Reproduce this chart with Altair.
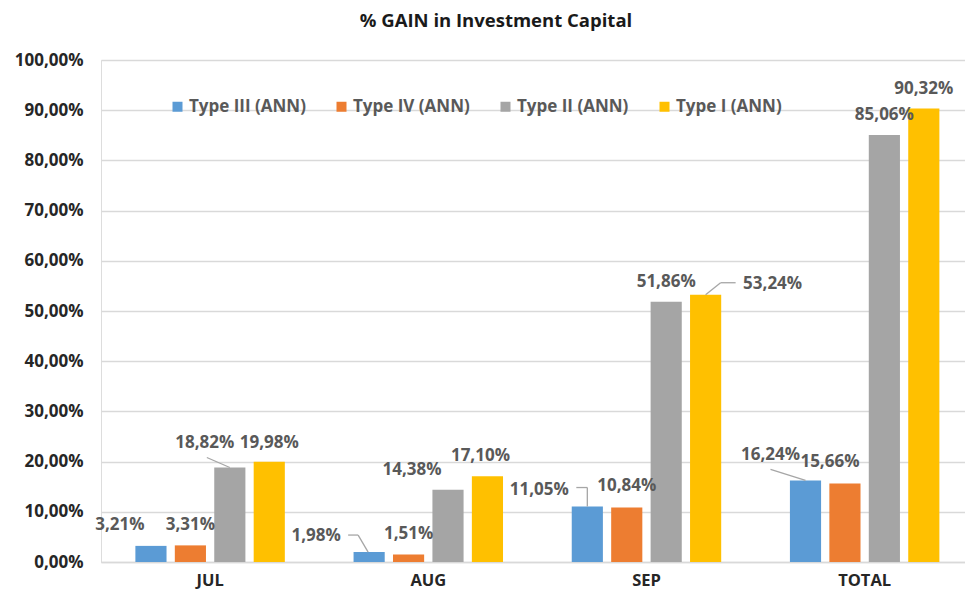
import altair as alt
import pandas as pd

categories = ["JUL", "AUG", "SEP", "TOTAL"]
series = ["Type III (ANN)", "Type IV (ANN)", "Type II (ANN)", "Type I (ANN)"]
type3 = [3.21, 1.98, 11.05, 16.24]
type4 = [3.31, 1.51, 10.84, 15.66]
type2 = [18.82, 14.38, 51.86, 85.06]
type1 = [19.98, 17.10, 53.24, 90.32]
colors = ["#5b9bd5", "#ed7d31", "#a5a5a5", "#ffc000"]

values_by_series = [type3, type4, type2, type1]
rows = []
for s, vals in zip(series, values_by_series):
    for c, v in zip(categories, vals):
        rows.append({"cat": c, "series": s, "value": v})
df = pd.DataFrame(rows)

# label pixel offsets (layout), keyed by (category, series index)
label_off = {
    ("JUL", 0): (-31, -21), ("JUL", 1): (0, -20), ("JUL", 2): (-25, -25), ("JUL", 3): (0, -19),
    ("AUG", 0): (-53, -16), ("AUG", 1): (0, -20), ("AUG", 2): (-36, -20), ("AUG", 3): (-7, -20),
    ("SEP", 0): (-48, -17), ("SEP", 1): (0, -22), ("SEP", 2): (0, -20), ("SEP", 3): (67, -11),
    ("TOTAL", 0): (-35, -25), ("TOTAL", 1): (-15, -21), ("TOTAL", 2): (0, -20), ("TOTAL", 3): (0, -20),
}
# leader line segments (layout): (cat, series idx, dx1, dy1, dx2, dy2) relative to bar top centre
leaders = [
    ("JUL", 2, 0, 0, -23, -10),
    ("AUG", 0, -1, 0, -11, -17), ("AUG", 0, -11, -17, -21, -17),
    ("SEP", 0, 0, 0, 0, -19), ("SEP", 0, 0, -19, -11, -19),
    ("SEP", 3, 0, 0, 15, -12), ("SEP", 3, 15, -12, 30, -12),
    ("TOTAL", 0, 0, 0, -35, -11),
]

FONT = "Open Sans"
W, H = 864, 502
PAD_IN, PAD_OUT, ALIGN = 0.315, 0.1375, 0.573
OFF_PAD = 0.21

# pixel centre of each series' bar relative to the category band centre (layout)
step = W / (len(categories) - PAD_IN + 2 * PAD_OUT)
bandwidth = step * (1 - PAD_IN)
off_step = bandwidth / (len(series) - OFF_PAD)
bar_center = [(i - (len(series) - 1) / 2) * off_step for i in range(len(series))]

x_enc = alt.X("cat:N", sort=categories, title=None,
              scale=alt.Scale(paddingInner=PAD_IN, paddingOuter=PAD_OUT, align=ALIGN),
              axis=alt.Axis(labelFont=FONT, labelFontSize=16.5, labelFontWeight="bold",
                            labelColor="#262626", labelAngle=0, labelPadding=10,
                            ticks=False, domainColor="#d9d9d9", domainWidth=1.5))
xoff_enc = alt.XOffset("series:N", sort=series,
                       scale=alt.Scale(paddingInner=OFF_PAD, paddingOuter=0))
y_enc = alt.Y("value:Q", title=None,
              scale=alt.Scale(domain=[0, 100], nice=False),
              axis=alt.Axis(values=list(range(0, 101, 10)),
                            labelExpr="replace(format(datum.value, '.2f'), '.', ',') + '%'",
                            labelFont=FONT, labelFontSize=17, labelFontWeight="bold",
                            labelColor="#262626", labelPadding=18,
                            ticks=False, domain=False,
                            gridColor="#d9d9d9", gridWidth=1.5))

base = alt.Chart(df)

bars = base.mark_bar().encode(
    x=x_enc,
    xOffset=xoff_enc,
    y=y_enc,
    color=alt.Color("series:N", sort=series,
                    scale=alt.Scale(domain=series, range=colors),
                    legend=alt.Legend(title=None, orient="none", direction="horizontal",
                                      legendX=68, legendY=38,
                                      symbolType="square", symbolSize=100, symbolStrokeWidth=0,
                                      labelFont=FONT, labelFontSize=17, labelFontWeight="bold",
                                      labelColor="#595959", columnPadding=27, labelOffset=3)),
)

layers = [bars]

for (c, si), (dx, dy) in label_off.items():
    s = series[si]
    t = base.transform_filter(
        (alt.datum.cat == c) & (alt.datum.series == s)
    ).transform_calculate(
        label="replace(format(datum.value, '.2f'), '.', ',') + '%'"
    ).mark_text(font=FONT, fontSize=17, fontWeight="bold", color="#595959",
                dx=dx, dy=dy, baseline="middle", align="center").encode(
        x=alt.X("cat:N", sort=categories),
        xOffset=alt.XOffset("series:N", sort=series),
        y=alt.Y("value:Q"),
        text="label:N",
    )
    layers.append(t)

for c, si, dx1, dy1, dx2, dy2 in leaders:
    s = series[si]
    bc = bar_center[si]
    r = base.transform_filter(
        (alt.datum.cat == c) & (alt.datum.series == s)
    ).mark_rule(color="#a6a6a6", strokeWidth=1.3,
                xOffset=bc + dx1, yOffset=dy1, x2Offset=bc + dx2, y2Offset=dy2).encode(
        x=alt.X("cat:N", sort=categories),
        x2=alt.X2("cat:N"),
        y=alt.Y("value:Q"),
        y2=alt.Y2("value:Q"),
    )
    layers.append(r)

chart = alt.layer(*layers).properties(
    width=W, height=H,
    title=alt.TitleParams("% GAIN in Investment Capital", font=FONT, fontSize=18.5,
                          fontWeight="bold", color="#1a1a1a", anchor="middle",
                          dx=-37, offset=21),
    autosize=alt.AutoSizeParams(type="none"),
    padding={"left": 93, "top": 52, "right": 0, "bottom": 29},
).configure_view(stroke=None).configure(background="white")

chart.save("out.html", embed_options={"renderer": "svg", "actions": False})
